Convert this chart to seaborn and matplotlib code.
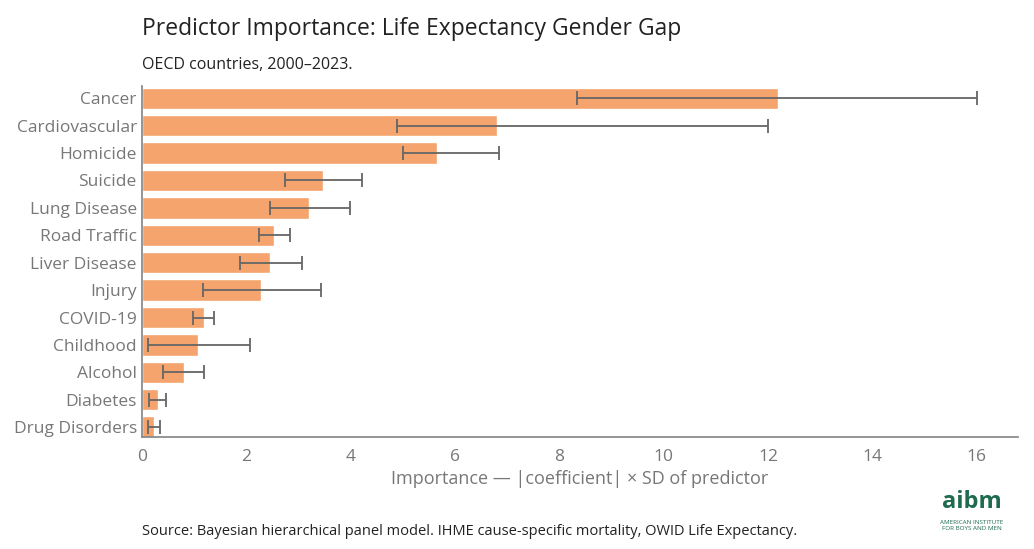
import matplotlib
matplotlib.use("Agg")
import matplotlib.pyplot as plt
import seaborn as sns
import pandas as pd

categories = ["Cancer","Cardiovascular","Homicide","Suicide","Lung Disease","Road Traffic",
              "Liver Disease","Injury","COVID-19","Childhood","Alcohol","Diabetes","Drug Disorders"]
importance = [12.19,6.81,5.66,3.47,3.21,2.53,2.46,2.28,1.19,1.07,0.81,0.31,0.23]
ci_low = [8.35,4.89,5.01,2.74,2.46,2.25,1.88,1.17,0.98,0.12,0.40,0.15,0.12]
ci_high = [16.0,12.0,6.85,4.22,3.99,2.84,3.07,3.44,1.38,2.07,1.19,0.46,0.35]

sns.set_theme(style="white")
plt.rcParams['font.family'] = ['Open Sans', 'DejaVu Sans']

df = pd.DataFrame({"cat": categories, "imp": importance})
fig = plt.figure(figsize=(10.34, 5.49), dpi=100)
ax = fig.add_axes([0.137, 0.204, 0.848, 0.639])
sns.barplot(data=df, x="imp", y="cat", color="#F4A46C", saturation=1, width=0.78, ax=ax)
for i in range(len(categories)):
    ax.errorbar(importance[i], i, xerr=[[importance[i]-ci_low[i]], [ci_high[i]-importance[i]]],
                fmt="none", ecolor="#666666", elinewidth=1.3, capsize=5, capthick=1.3)
ax.set_xlim(0, 16.8)
ax.set_ylim(12.36, -0.44)
ax.set_xticks(range(0, 17, 2))
ax.set_ylabel("")
ax.set_xlabel("Importance — |coefficient| × SD of predictor", fontsize=13, color="#777777")
ax.tick_params(axis="both", labelsize=12.5, colors="#777777", length=0)
ax.tick_params(axis="x", length=5, color="#888888")
for s in ["top", "right"]:
    ax.spines[s].set_visible(False)
for s in ["left", "bottom"]:
    ax.spines[s].set_color("#888888")
fig.text(0.137, 0.937, "Predictor Importance: Life Expectancy Gender Gap", fontsize=16.5, color="#222222")
fig.text(0.137, 0.875, "OECD countries, 2000–2023.", fontsize=11.5, color="#222222")
fig.text(0.137, 0.025, "Source: Bayesian hierarchical panel model. IHME cause-specific mortality, OWID Life Expectancy.",
         fontsize=10.5, color="#222222")
fig.text(0.94, 0.075, "aibm", fontsize=17, fontweight="bold", color="#1f6b50", ha="center")
fig.text(0.94, 0.035, "AMERICAN INSTITUTE\nFOR BOYS AND MEN", fontsize=4.5, color="#1f6b50", ha="center", linespacing=1.1)
fig.savefig("out.png", dpi=100)
